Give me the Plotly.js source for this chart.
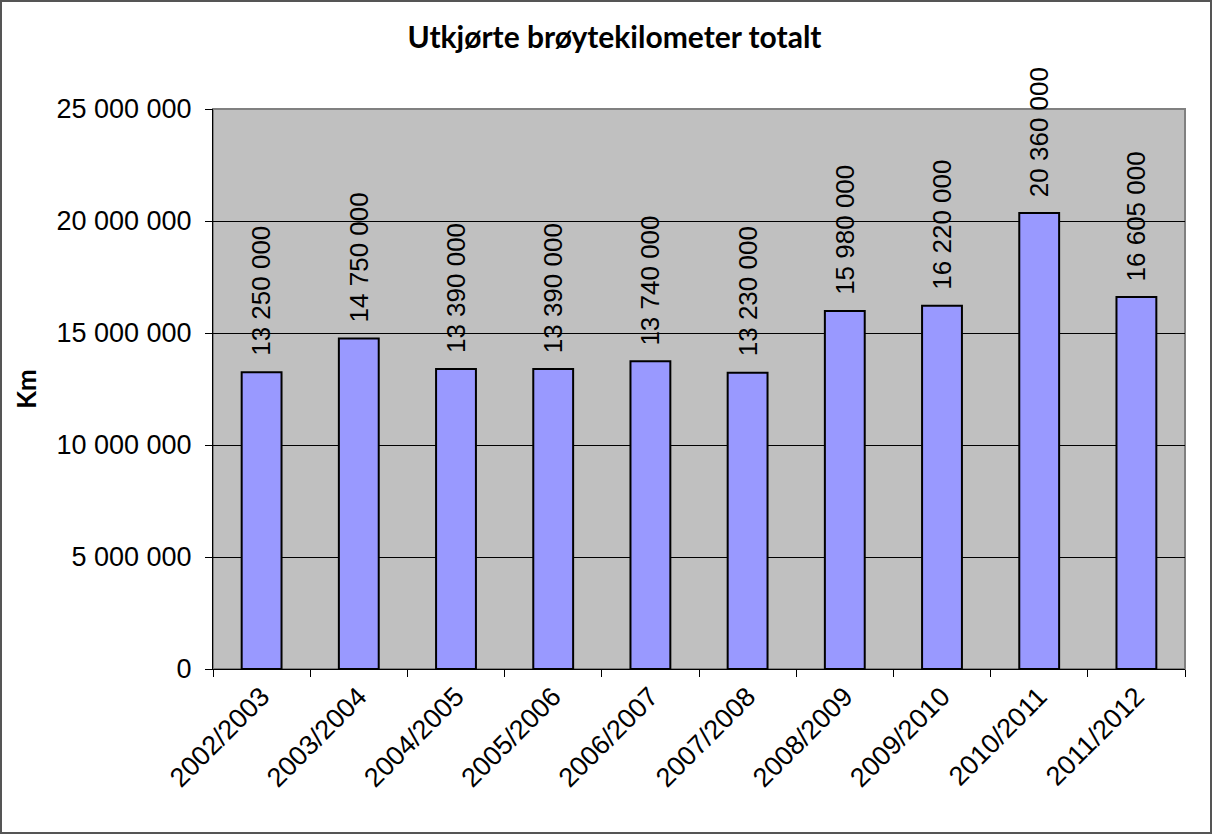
<!DOCTYPE html>
<html><head><meta charset="utf-8">
<script src="https://cdn.plot.ly/plotly-3.0.1.min.js"></script>
<style>
html,body{margin:0;padding:0;background:#fff;}
#wrap{position:absolute;left:0;top:0;width:1212px;height:834px;box-sizing:border-box;border:2px solid #555;}
#chart{position:absolute;left:0;top:0;width:1212px;height:834px;}
</style></head>
<body><div id="chart"></div><div id="wrap"></div>
<script>
const seasons = ["2002/2003","2003/2004","2004/2005","2005/2006","2006/2007","2007/2008","2008/2009","2009/2010","2010/2011","2011/2012"];
const km = [13250000,14750000,13390000,13390000,13740000,13230000,15980000,16220000,20360000,16605000];
const yTicks = [0,5000000,10000000,15000000,20000000,25000000];

function fmt(v){ return String(v).replace(/\B(?=(\d{3})+(?!\d))/g," "); }

const font = "Liberation Sans, Arial, sans-serif";
const tfont = "Lato, Open Sans, sans-serif";
const annotations = seasons.map((s,i)=>({
  x: s, y: km[i], xref:'x', yref:'y', text: fmt(km[i]), showarrow:false,
  textangle:-90, yanchor:'bottom', xanchor:'center', yshift:14,
  font:{family:font,size:26,color:'#000'}
}));

Plotly.newPlot('chart',[{
  type:'bar', x:seasons, y:km,
  marker:{color:'#9999FF', line:{color:'#000', width:2}},
  hoverinfo:'none'
}],{
  width:1212, height:834,
  margin:{l:213,r:27,t:109,b:165},
  paper_bgcolor:'#fff', plot_bgcolor:'#C0C0C0',
  bargap:0.59,
  showlegend:false,
  title:{text:'<b>Utkjørte brøytekilometer totalt</b>', font:{family:tfont,size:30,color:'#000'}, x:0.507, xanchor:'center', y:0.955, yanchor:'middle'},
  xaxis:{type:'category', tickangle:-45, tickfont:{family:font,size:27,color:'#000'},
    ticks:'outside', tickson:'boundaries', ticklen:7, tickcolor:'#000',
    showline:true, linecolor:'#000', linewidth:1, showgrid:false, mirror:false},
  yaxis:{range:[0,25000000], tickvals:yTicks, ticktext:yTicks.map(fmt),
    tickfont:{family:font,size:27,color:'#000'}, ticks:'outside', ticklen:7, tickcolor:'#000',
    ticklabelstandoff:8,
    showline:true, linecolor:'#000', linewidth:1, gridcolor:'#000', gridwidth:1, zeroline:false,
    title:{text:'<b>Km</b>', font:{family:tfont,size:26,color:'#000'}, standoff:12}},
  shapes:[{type:'rect', xref:'paper', yref:'paper', x0:0, x1:1, y0:0, y1:1, line:{color:'#808080', width:2}, layer:'below'}],
  annotations: annotations
},{displayModeBar:false, staticPlot:true});
</script></body></html>
